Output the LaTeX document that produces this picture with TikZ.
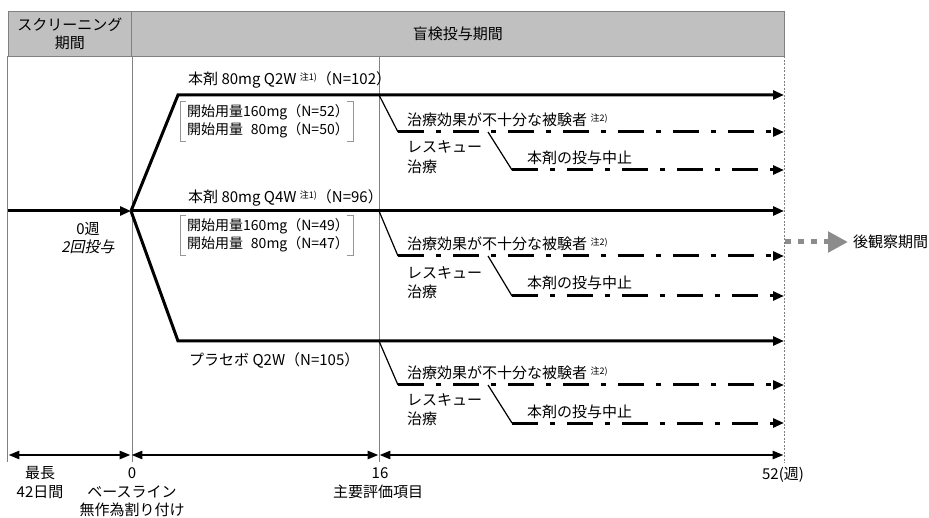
\documentclass[tikz,border=0pt]{standalone}
\usepackage{fontspec}
\setmainfont{Noto Sans CJK JP}
\newfontfamily\jpit[FakeSlant=0.2]{Noto Sans CJK JP}
\usetikzlibrary{arrows.meta}
\definecolor{hdrfill}{RGB}{192,192,192}
\definecolor{rulegray}{RGB}{128,128,128}
\definecolor{fugray}{RGB}{140,140,140}
\definecolor{brkgray}{RGB}{150,150,150}
\newcommand\chu[1]{\raisebox{4pt}{\fontsize{9}{9}\selectfont #1}}
\begin{document}
\begin{tikzpicture}[x=1pt,y=-1pt,
  font=\fontsize{15}{18}\selectfont,
  hdr/.style={draw=rulegray, fill=hdrfill, line width=0.8pt, minimum height=44.5pt, align=center, inner sep=0pt},
  vrule/.style={draw=rulegray, line width=0.8pt},
  vdash/.style={draw=rulegray, line width=0.6pt, dash pattern=on 2pt off 1.5pt},
  mainline/.style={line width=3pt, line join=miter},
  mainarrow/.style={mainline, -{Triangle[length=11pt,width=9pt]}},
  dashline/.style={line width=3pt, dash pattern=on 26pt off 12pt on 5pt off 12pt, -{Triangle[length=11pt,width=9pt]}},
  thinslant/.style={line width=1.2pt},
  axisline/.style={line width=2.5pt, {Triangle[length=11pt,width=8pt]}-{Triangle[length=11pt,width=8pt]}, shorten <=0.4pt, shorten >=0.4pt},
  lbl/.style={inner sep=0pt, anchor=west},
  twoline/.style={inner sep=0pt, anchor=west, align=left, font=\fontsize{15}{19.5}\selectfont},
  ctr/.style={inner sep=0pt, align=center},
  dosetext/.style={inner sep=0pt, align=left, anchor=west, font=\fontsize{14}{18}\selectfont},
  brk/.style={draw=brkgray, line width=0.8pt},
  fuarrow/.style={draw=fugray, line width=5pt, dash pattern=on 5.5pt off 7.5pt, -{Triangle[length=20pt,width=20pt,fill=fugray]}},
]
\useasboundingbox (0,0) rectangle (929,518);

% header
\node[hdr, minimum width=123.5pt] (hscr) at (69.75,33.75) {スクリーニング\\期間};
\node[hdr, minimum width=652.5pt] (hblind) at (457.75,33.75) {盲検投与期間};

% vertical rules
\draw[vrule] (hscr.south west) -- ++(0,406);
\draw[vrule] (hscr.south east) -- ++(0,406);
\coordinate (v16top) at (379,56);
\draw[vrule] (v16top) -- ++(0,406);
\draw[vdash] (hblind.south east) -- ++(0,407);

% main arms
\coordinate (start) at (8,211);
\coordinate (j0) at (131,211);
\coordinate (a1) at (178,95);
\coordinate (a2) at (784,95);
\coordinate (b2) at (784,211);
\coordinate (c1) at (178,341);
\coordinate (c2) at (784,341);
\draw[mainarrow] (start) -- (j0);
\draw[mainarrow] (j0) -- (a1) -- (a2);
\draw[mainarrow] (j0) -- (b2);
\draw[mainarrow] (j0) -- (c1) -- (c2);

% sub-branches: top group
\coordinate (t0) at (379,95);
\coordinate (t1) at (398,132);
\coordinate (t2) at (784,132);
\coordinate (t3) at (488,132);
\coordinate (t4) at (512,170);
\coordinate (t5) at (784,170);
\draw[thinslant] (t0) -- (t1);
\draw[dashline] (t1) -- (t2);
\draw[thinslant] (t3) -- (t4);
\draw[dashline] (t4) -- (t5);
% middle group
\coordinate (m0) at (379,211);
\coordinate (m1) at (398,256);
\coordinate (m2) at (784,256);
\coordinate (m3) at (488,256);
\coordinate (m4) at (512,296);
\coordinate (m5) at (784,296);
\draw[thinslant] (m0) -- (m1);
\draw[dashline] (m1) -- (m2);
\draw[thinslant] (m3) -- (m4);
\draw[dashline] (m4) -- (m5);
% bottom group
\coordinate (p0) at (379,341);
\coordinate (p1) at (398,385);
\coordinate (p2) at (784,385);
\coordinate (p3) at (488,385);
\coordinate (p4) at (512,423);
\coordinate (p5) at (784,423);
\draw[thinslant] (p0) -- (p1);
\draw[dashline] (p1) -- (p2);
\draw[thinslant] (p3) -- (p4);
\draw[dashline] (p4) -- (p5);

% arm labels
\node[lbl] (lblA) at (188,80) {本剤 80mg Q2W \chu{注1)}（N=102）};
\node[lbl] (lblB) at (188,198) {本剤 80mg Q4W \chu{注1)}（N=96）};
\node[lbl] (lblC) at (189,360) {プラセボ Q2W（N=105）};

% dose brackets
\node[dosetext] (dose1) at (187,121) {開始用量160mg（N=52）\\開始用量\phantom{1}80mg（N=50）};
\node[dosetext] (dose2) at (187,235) {開始用量160mg（N=49）\\開始用量\phantom{1}80mg（N=47）};
\coordinate (d1nw) at (180,101); \coordinate (d1se) at (353,141);
\coordinate (d2nw) at (180,215); \coordinate (d2se) at (353,255);
\foreach \b in {d1,d2}{
  \draw[brk] ([xshift=6pt]\b nw) -- (\b nw) -- (\b nw |- \b se) -- ([xshift=6pt]\b nw |- \b se);
  \draw[brk] ([xshift=-6pt]\b se |- \b nw) -- (\b se |- \b nw) -- (\b se) -- ([xshift=-6pt]\b se);
}

\node[ctr] (w0) at (88,229) {0週};
\node[ctr, font=\fontsize{15}{18}\jpit] (twice) at (88,247) {2回投与};

% group texts
\node[lbl] (inA) at (407,120) {治療効果が不十分な被験者 \chu{注2)}};
\node[twoline] (rsA) at (407,157) {レスキュー\\治療};
\node[lbl] (stA) at (527,158) {本剤の投与中止};
\node[lbl] (inB) at (407,244) {治療効果が不十分な被験者 \chu{注2)}};
\node[twoline] (rsB) at (407,282.5) {レスキュー\\治療};
\node[lbl] (stB) at (527,283) {本剤の投与中止};
\node[lbl] (inC) at (407,373) {治療効果が不十分な被験者 \chu{注2)}};
\node[twoline] (rsC) at (407,409.5) {レスキュー\\治療};
\node[lbl] (stC) at (527,412) {本剤の投与中止};

% follow-up
\coordinate (fu0) at (785,242);
\node[lbl] (fu) at (853,242) {後観察期間};
\draw[fuarrow] (fu0) -- ([xshift=-5pt]fu.west);

% time axis
\coordinate (ax0) at (8,455);
\coordinate (ax1) at (131,455);
\coordinate (ax2) at (379,455);
\coordinate (ax3) at (784,455);
\draw[axisline] (ax0) -- (ax1);
\draw[axisline] (ax1) -- (ax2);
\draw[axisline] (ax2) -- (ax3);

\node[ctr] (maxl) at (40,473) {最長};
\node[ctr] (d42) at (40,492) {42日間};
\node[ctr] (t0l) at (132,473) {0};
\node[ctr] (base) at (132,492) {ベースライン};
\node[ctr] (rand) at (132,510) {無作為割り付け};
\node[ctr] (t16) at (380,473) {16};
\node[ctr] (prim) at (378,492) {主要評価項目};
\node[ctr] (t52) at (783,475) {52(週)};
\end{tikzpicture}
\end{document}
